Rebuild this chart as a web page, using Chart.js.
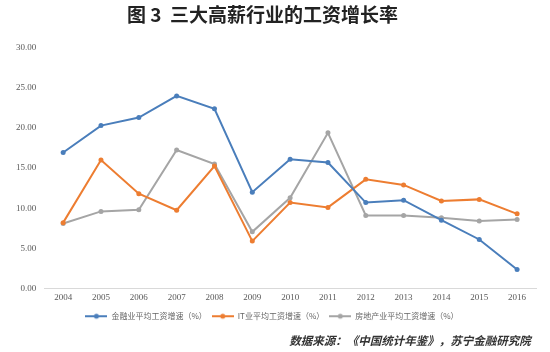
<!DOCTYPE html>
<html>
<head>
<meta charset="utf-8">
<script src="https://cdn.jsdelivr.net/npm/chart.js@4"></script>
<style>
  html, body { margin: 0; padding: 0; background: #fff; }
  #wrap { width: 550px; height: 352px; }
</style>
</head>
<body>
<div id="wrap"><canvas id="chart1"></canvas></div>
<script>
// data
const years = ['2004', '2005', '2006', '2007', '2008', '2009', '2010',
               '2011', '2012', '2013', '2014', '2015', '2016'];
const finance = [16.95, 20.3, 21.3, 24.0, 22.4, 12.0, 16.1,
                 15.7, 10.7, 11.0, 8.5, 6.1, 2.35];
const itIndustry = [8.2, 16.0, 11.8, 9.75, 15.25, 5.9, 10.7,
                    10.1, 13.6, 12.9, 10.9, 11.1, 9.3];
const realEstate = [8.1, 9.6, 9.8, 17.25, 15.5, 7.05, 11.3,
                    19.4, 9.1, 9.1, 8.8, 8.4, 8.6];
const seriesNames = ['金融业平均工资增速（%）', 'IT业平均工资增速（%）', '房地产业平均工资增速（%）'];
const yTicks = [0, 5, 10, 15, 20, 25, 30];

const colors = ['#4a7ebb', '#ed7d31', '#a5a5a5'];

// small line + dot marker for the legend, like Excel's
function legendMark(color) {
    const c = document.createElement('canvas');
    c.width = 22; c.height = 8;
    const g = c.getContext('2d');
    g.strokeStyle = color;
    g.lineWidth = 2;
    g.beginPath(); g.moveTo(0, 4); g.lineTo(22, 4); g.stroke();
    g.fillStyle = color;
    g.beginPath(); g.arc(11, 4, 2.5, 0, Math.PI * 2); g.fill();
    return c;
}

const makeSet = (label, data, color) => ({
    label: label,
    data: data,
    borderColor: color,
    backgroundColor: color,
    borderWidth: 2,
    pointRadius: 2.5,
    pointBorderWidth: 0,
    pointBackgroundColor: color,
    pointStyle: 'circle',
    tension: 0
});

document.addEventListener("DOMContentLoaded", function() {
    const ctx1 = document.getElementById('chart1').getContext('2d');
    new Chart(ctx1, {
        type: 'line',
        data: {
            labels: years,
            datasets: [
                makeSet(seriesNames[0], finance, colors[0]),
                makeSet(seriesNames[1], itIndustry, colors[1]),
                makeSet(seriesNames[2], realEstate, colors[2])
            ]
        },
        options: {
            responsive: true,
            maintainAspectRatio: false,
            animation: false,
            layout: { padding: { left: 8, right: 14, top: 1, bottom: 2 } },
            plugins: {
                title: {
                    display: true,
                    text: '图 3  三大高薪行业的工资增长率　',
                    color: '#222',
                    font: { family: '"Noto Sans CJK SC"', size: 19, weight: 'bold' },
                    padding: { top: 2, bottom: 22 }
                },
                subtitle: {
                    display: true,
                    position: 'bottom',
                    align: 'end',
                    text: '数据来源：《中国统计年鉴》，苏宁金融研究院  ',
                    color: '#333',
                    font: { family: '"Noto Sans CJK SC"', size: 11.5, style: 'italic', weight: 'bold' },
                    padding: { top: 4, bottom: 2 }
                },
                legend: {
                    position: 'bottom',
                    labels: {
                        usePointStyle: true,
                        pointStyleWidth: 22,
                        boxHeight: 8,
                        color: '#666',
                        padding: 5,
                        font: { family: '"Noto Sans CJK SC"', size: 8 },
                        generateLabels: function(chart) {
                            const items = Chart.defaults.plugins.legend.labels.generateLabels(chart);
                            items.forEach(it => {
                                it.pointStyle = legendMark(colors[it.datasetIndex]);
                            });
                            return items;
                        }
                    }
                },
                tooltip: { enabled: false }
            },
            scales: {
                x: {
                    offset: true,
                    grid: { display: false, drawTicks: false },
                    border: { color: '#d9d9d9', width: 1 },
                    ticks: {
                        color: '#595959',
                        padding: 4,
                        maxRotation: 0,
                        font: { family: '"Liberation Serif"', size: 9 }
                    }
                },
                y: {
                    min: 0,
                    max: 30,
                    afterBuildTicks: function(axis) {
                        axis.ticks = yTicks.map(v => ({ value: v }));
                    },
                    grid: { display: false, drawTicks: false },
                    border: { display: false },
                    ticks: {
                        color: '#595959',
                        padding: 8,
                        font: { family: '"Liberation Serif"', size: 9 },
                        callback: v => v.toFixed(2)
                    }
                }
            }
        }
    });
});
</script>
</body>
</html>
